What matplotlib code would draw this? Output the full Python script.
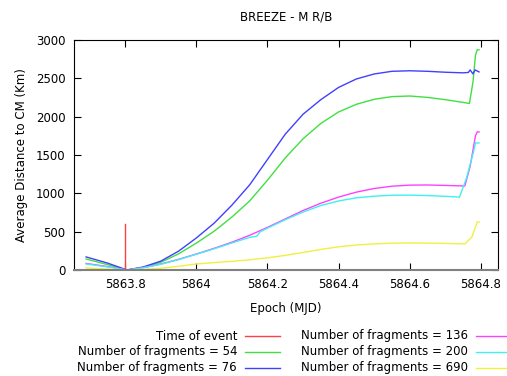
import matplotlib
matplotlib.use("Agg")
import matplotlib.pyplot as plt
from matplotlib.lines import Line2D

# common epoch grid (MJD) up to the end-of-run kink
base = [5863.69, 5863.75, 5863.805, 5863.85, 5863.9, 5863.95, 5864.0, 5864.05,
        5864.1, 5864.15, 5864.2, 5864.25, 5864.3, 5864.35, 5864.4, 5864.45,
        5864.5, 5864.55, 5864.6, 5864.65, 5864.7]

event_epoch = 5863.8
event_height = 600

x54 = base + [5864.75, 5864.768, 5864.778, 5864.785, 5864.79, 5864.795]
d54 = [143, 70, 0, 35, 100, 210, 350, 505, 690, 900, 1170, 1460, 1710, 1910,
       2060, 2160, 2225, 2260, 2268, 2250, 2220, 2185, 2170, 2450, 2800, 2870, 2870]

x76 = base + [5864.75, 5864.765, 5864.77, 5864.778, 5864.784, 5864.795]
d76 = [170, 90, 0, 38, 115, 245, 417, 610, 845, 1110, 1440, 1770, 2030, 2220,
       2380, 2490, 2555, 2590, 2597, 2590, 2578, 2570, 2575, 2608, 2556, 2608, 2582]

x136 = base + [5864.755, 5864.77, 5864.785, 5864.79, 5864.795]
d136 = [85, 45, 0, 30, 78, 138, 208, 282, 362, 452, 555, 665, 775, 870, 950,
        1015, 1062, 1092, 1106, 1108, 1102, 1095, 1350, 1750, 1800, 1800]

x200 = base[:10] + [5864.17, 5864.18] + base[10:] + [5864.74, 5864.76, 5864.78, 5864.785, 5864.795]
d200 = [78, 40, 0, 28, 74, 135, 205, 276, 352, 425, 440, 500, 545, 655, 755,
        840, 900, 940, 962, 974, 976, 970, 960, 950, 1200, 1550, 1656, 1656]

x690 = base + [5864.755, 5864.775, 5864.79, 5864.795]
d690 = [26, 12, 0, 8, 22, 48, 78, 96, 113, 132, 158, 190, 228, 268, 302, 325,
        340, 349, 352, 350, 346, 340, 430, 626, 626]

labels = ["Time of event", "Number of fragments = 54", "Number of fragments = 76",
          "Number of fragments = 136", "Number of fragments = 200", "Number of fragments = 690"]
colors = ["#ff4040", "#40e040", "#4040ff", "#ff40ff", "#40f0f0", "#f0f040"]

xticks = [5863.8, 5864, 5864.2, 5864.4, 5864.6, 5864.8]
xticklabels = ["5863.8", "5864", "5864.2", "5864.4", "5864.6", "5864.8"]
yticks = [0, 500, 1000, 1500, 2000, 2500, 3000]

plt.rcParams["font.family"] = "DejaVu Sans"
plt.rcParams["font.size"] = 8.5

fig = plt.figure(figsize=(5.07, 3.76), dpi=100)
ax = fig.add_axes([0.146, 0.282, 0.836, 0.612])

ax.plot([event_epoch, event_epoch], [0, event_height], color=colors[0], lw=1)
series = [(x54, d54), (x76, d76), (x136, d136), (x200, d200), (x690, d690)]
for (xs, ys), c in zip(series, colors[1:]):
    ax.plot(xs, ys, color=c, lw=1)

ax.set_xlim(5863.656, 5864.848)
ax.set_ylim(0, 3000)
ax.set_xticks(xticks)
ax.set_xticklabels(xticklabels)
ax.set_yticks(yticks)
ax.tick_params(direction="in", length=5, width=0.8, top=True, right=True, pad=6)
for s in ["left", "top", "right"]:
    ax.spines[s].set_linewidth(0.8)
ax.spines["bottom"].set_color("#808080")
ax.spines["bottom"].set_linewidth(1.5)

ax.set_title("BREEZE - M R/B", fontsize=8.5, pad=14)
ax.set_xlabel("Epoch (MJD)", labelpad=8)
ax.set_ylabel("Average Distance to CM (Km)", labelpad=6)

# gnuplot-style key: right-aligned labels with sample line after text
rows = [336, 352, 368]
cols = [(237, 245, 280), (468, 476, 511)]
for i, (lab, c) in enumerate(zip(labels, colors)):
    tx, l0, l1 = cols[i // 3]
    y = 1 - rows[i % 3] / 376
    fig.text(tx / 507, y, lab, ha="right", va="center")
    fig.add_artist(Line2D([l0 / 507, l1 / 507], [y, y], color=c, lw=1,
                          transform=fig.transFigure))

fig.savefig("out.png", dpi=100)
